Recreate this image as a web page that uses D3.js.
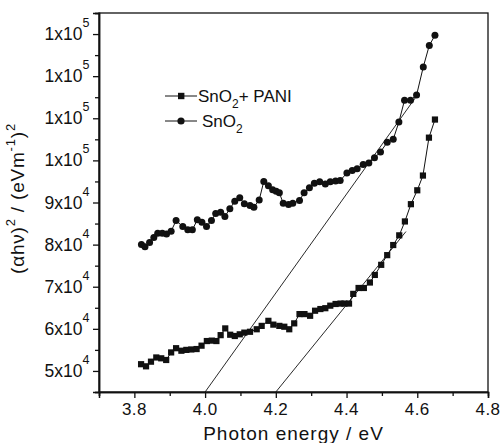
<!DOCTYPE html>
<html lang="en">
<head>
    <meta charset="UTF-8">
    <title>Tauc plot SnO2 / SnO2 + PANI</title>
    <script src="https://d3js.org/d3.v7.min.js"></script>
    <style>
        body { margin: 0; background: #fff; }
        text { font-family: "Liberation Sans", Arial, Helvetica, sans-serif; fill: #111; }
    </style>
</head>
<body>
    <svg width="501" height="443"></svg>

    <script>
        // Photon energy (eV) and (alpha h nu)^2
        const snoEnergy = [3.820, 3.830, 3.843, 3.855, 3.866, 3.879, 3.891, 3.904, 3.918, 3.937,
            3.951, 3.964, 3.978, 3.991, 4.004, 4.018, 4.030, 4.044, 4.056, 4.070,
            4.084, 4.098, 4.111, 4.127, 4.138, 4.153, 4.166, 4.179, 4.191, 4.201,
            4.210, 4.221, 4.236, 4.248, 4.267, 4.280, 4.295, 4.309, 4.324, 4.340,
            4.354, 4.369, 4.382, 4.401, 4.416, 4.430, 4.447, 4.463, 4.479, 4.496,
            4.515, 4.532, 4.548, 4.564, 4.581, 4.598, 4.617, 4.634, 4.650];
        const snoValues = [80000, 79500, 80500, 81700, 82700, 82700, 82500, 83200, 85700, 84300,
            83500, 83500, 85900, 85300, 84300, 85700, 87400, 87700, 86700, 88500,
            90300, 91100, 89700, 89300, 88900, 90600, 95000, 94000, 93000, 92700,
            92300, 89800, 89500, 89800, 90500, 92300, 93500, 94600, 94900, 94400,
            94900, 95100, 95200, 97000, 97600, 98000, 99000, 99400, 100600, 102000,
            104300, 105000, 109100, 114300, 114300, 115500, 122200, 127300, 129700];

        const paniEnergy = [3.819, 3.833, 3.847, 3.862, 3.876, 3.890, 3.904, 3.918, 3.933, 3.947,
            3.961, 3.976, 3.990, 4.005, 4.019, 4.032, 4.044, 4.057, 4.071, 4.084,
            4.098, 4.111, 4.127, 4.146, 4.160, 4.179, 4.193, 4.210, 4.224, 4.238,
            4.252, 4.267, 4.281, 4.297, 4.311, 4.326, 4.340, 4.354, 4.369, 4.383,
            4.394, 4.407, 4.419, 4.434, 4.449, 4.466, 4.480, 4.498, 4.515, 4.532,
            4.549, 4.565, 4.582, 4.600, 4.616, 4.633, 4.650];
        const paniValues = [51600, 51100, 52200, 53200, 53000, 52600, 54400, 55400, 54800, 55000,
            55100, 55200, 56000, 57100, 57200, 57100, 58500, 60100, 58600, 58300,
            58700, 59100, 59300, 59900, 60700, 61900, 61000, 60700, 60500, 59900,
            61300, 63500, 63500, 63100, 64300, 64700, 64900, 65500, 65900, 66000,
            66000, 66000, 68300, 69700, 69700, 71000, 72800, 75200, 77500, 79900,
            82200, 85500, 89600, 92900, 96400, 105400, 109700];

        // linear extrapolations drawn on the plot: [[E0, v0], [E1, v1]]
        const snoFit = [[4.00, 45000], [4.60, 115500]];
        const paniFit = [[4.20, 45000], [4.568, 83100]];

        const xTicks = [3.8, 4.0, 4.2, 4.4, 4.6, 4.8];
        const xTickLabels = ["3.8", "4.0", "4.2", "4.4", "4.6", "4.8"];
        const xMinor = [3.7, 3.9, 4.1, 4.3, 4.5, 4.7];
        const yTicks = [50000, 60000, 70000, 80000, 90000, 100000, 110000, 120000, 130000];
        const yTickLabels = ["5x10^4", "6x10^4", "7x10^4", "8x10^4", "9x10^4",
            "1x10^5", "1x10^5", "1x10^5", "1x10^5"];
        const yMinor = [45000, 55000, 65000, 75000, 85000, 95000, 105000, 115000, 125000, 135000];

        const svg = d3.select("svg");
        const mLeft = 99, mRight = 488, mTop = 13, mBottom = 392;

        const x = d3.scaleLinear().domain([3.7, 4.8]).range([mLeft, mRight]);
        const y = d3.scaleLinear().domain([45000, 135000]).range([mBottom, mTop]);

        // frame
        svg.append("rect")
            .attr("x", mLeft).attr("y", mTop)
            .attr("width", mRight - mLeft).attr("height", mBottom - mTop)
            .attr("fill", "none").attr("stroke", "#111").attr("stroke-width", 1.3);

        // axes: major + minor ticks, labels written by hand for the superscripts
        const gx = svg.append("g").attr("transform", `translate(0,${mBottom})`);
        gx.call(d3.axisBottom(x).tickValues(xTicks).tickSize(6).tickFormat(""));
        gx.call(g => g.append("g").call(d3.axisBottom(x).tickValues(xMinor).tickSize(4).tickFormat("")));
        gx.selectAll("path.domain").attr("stroke", "#111").attr("stroke-width", 1.5);
        gx.selectAll("line").attr("stroke", "#111").attr("stroke-width", 1.3);

        const gy = svg.append("g").attr("transform", `translate(${mLeft},0)`);
        gy.call(d3.axisLeft(y).tickValues(yTicks).tickSize(6).tickFormat(""));
        gy.call(g => g.append("g").call(d3.axisLeft(y).tickValues(yMinor).tickSize(4).tickFormat("")));
        gy.selectAll("path.domain").attr("stroke", "#111").attr("stroke-width", 1.5);
        gy.selectAll("line").attr("stroke", "#111").attr("stroke-width", 1.3);

        svg.append("g").selectAll("text")
            .data(xTicks)
            .join("text")
            .attr("x", d => x(d))
            .attr("y", mBottom + 23)
            .attr("text-anchor", "middle")
            .attr("font-size", 17)
            .attr("letter-spacing", 0.4)
            .text((d, i) => xTickLabels[i]);

        const yl = svg.append("g").selectAll("text")
            .data(yTicks)
            .join("text")
            .attr("x", mLeft - 9.5)
            .attr("y", d => y(d) + 6)
            .attr("text-anchor", "end")
            .attr("font-size", 17.5);
        yl.append("tspan").text((d, i) => yTickLabels[i].split("^")[0]);
        yl.append("tspan").attr("dy", -13).attr("font-size", 12.5).text((d, i) => yTickLabels[i].split("^")[1]);

        // axis titles
        svg.append("text")
            .attr("x", (mLeft + mRight) / 2)
            .attr("y", 440)
            .attr("text-anchor", "middle")
            .attr("font-size", 19)
            .attr("letter-spacing", 1)
            .text("Photon energy / eV");

        const yt = svg.append("text")
            .attr("transform", `translate(24,${(mTop + mBottom) / 2 - 4}) rotate(-90)`)
            .attr("text-anchor", "middle")
            .attr("font-size", 19)
            .attr("letter-spacing", 0.8);
        yt.append("tspan").text("(\u03b1h\u03bd)");
        yt.append("tspan").attr("dy", -9).attr("font-size", 13).text("2");
        yt.append("tspan").attr("dy", 9).text(" / (eVm");
        yt.append("tspan").attr("dy", -9).attr("font-size", 13).text("-1");
        yt.append("tspan").attr("dy", 9).text(")");
        yt.append("tspan").attr("dy", -9).attr("font-size", 13).text("2");

        // fit lines
        const line = d3.line().x(d => x(d[0])).y(d => y(d[1]));
        [snoFit, paniFit].forEach(f => {
            svg.append("path").attr("d", line(f))
                .attr("fill", "none").attr("stroke", "#111").attr("stroke-width", 0.9);
        });

        // data series
        const sno = snoEnergy.map((e, i) => [e, snoValues[i]]);
        const pani = paniEnergy.map((e, i) => [e, paniValues[i]]);

        svg.append("path").attr("d", line(sno))
            .attr("fill", "none").attr("stroke", "#111").attr("stroke-width", 1);
        svg.append("path").attr("d", line(pani))
            .attr("fill", "none").attr("stroke", "#111").attr("stroke-width", 1);

        svg.append("g").selectAll("circle")
            .data(sno)
            .join("circle")
            .attr("cx", d => x(d[0]))
            .attr("cy", d => y(d[1]))
            .attr("r", 3.5)
            .attr("fill", "#111");

        svg.append("g").selectAll("rect")
            .data(pani)
            .join("rect")
            .attr("x", d => x(d[0]) - 3.1)
            .attr("y", d => y(d[1]) - 3.1)
            .attr("width", 6.2)
            .attr("height", 6.2)
            .attr("fill", "#111");

        // legend
        const leg = svg.append("g").attr("transform", "translate(165,96)");
        leg.append("line").attr("x1", 0).attr("x2", 32).attr("y1", 0).attr("y2", 0)
            .attr("stroke", "#111").attr("stroke-width", 1);
        leg.append("rect").attr("x", 13).attr("y", -3.2).attr("width", 6.4).attr("height", 6.4).attr("fill", "#111");
        const t1 = leg.append("text").attr("x", 33).attr("y", 6).attr("font-size", 17);
        t1.append("tspan").text("SnO");
        t1.append("tspan").attr("dy", 6).attr("font-size", 12).text("2");
        t1.append("tspan").attr("dy", -6).text("+ PANI");

        leg.append("line").attr("x1", 0).attr("x2", 32).attr("y1", 25).attr("y2", 25)
            .attr("stroke", "#111").attr("stroke-width", 1);
        leg.append("circle").attr("cx", 16).attr("cy", 25).attr("r", 3.6).attr("fill", "#111");
        const t2 = leg.append("text").attr("x", 37).attr("y", 31).attr("font-size", 17);
        t2.append("tspan").text("SnO");
        t2.append("tspan").attr("dy", 6).attr("font-size", 12).text("2");
    </script>
</body>
</html>
